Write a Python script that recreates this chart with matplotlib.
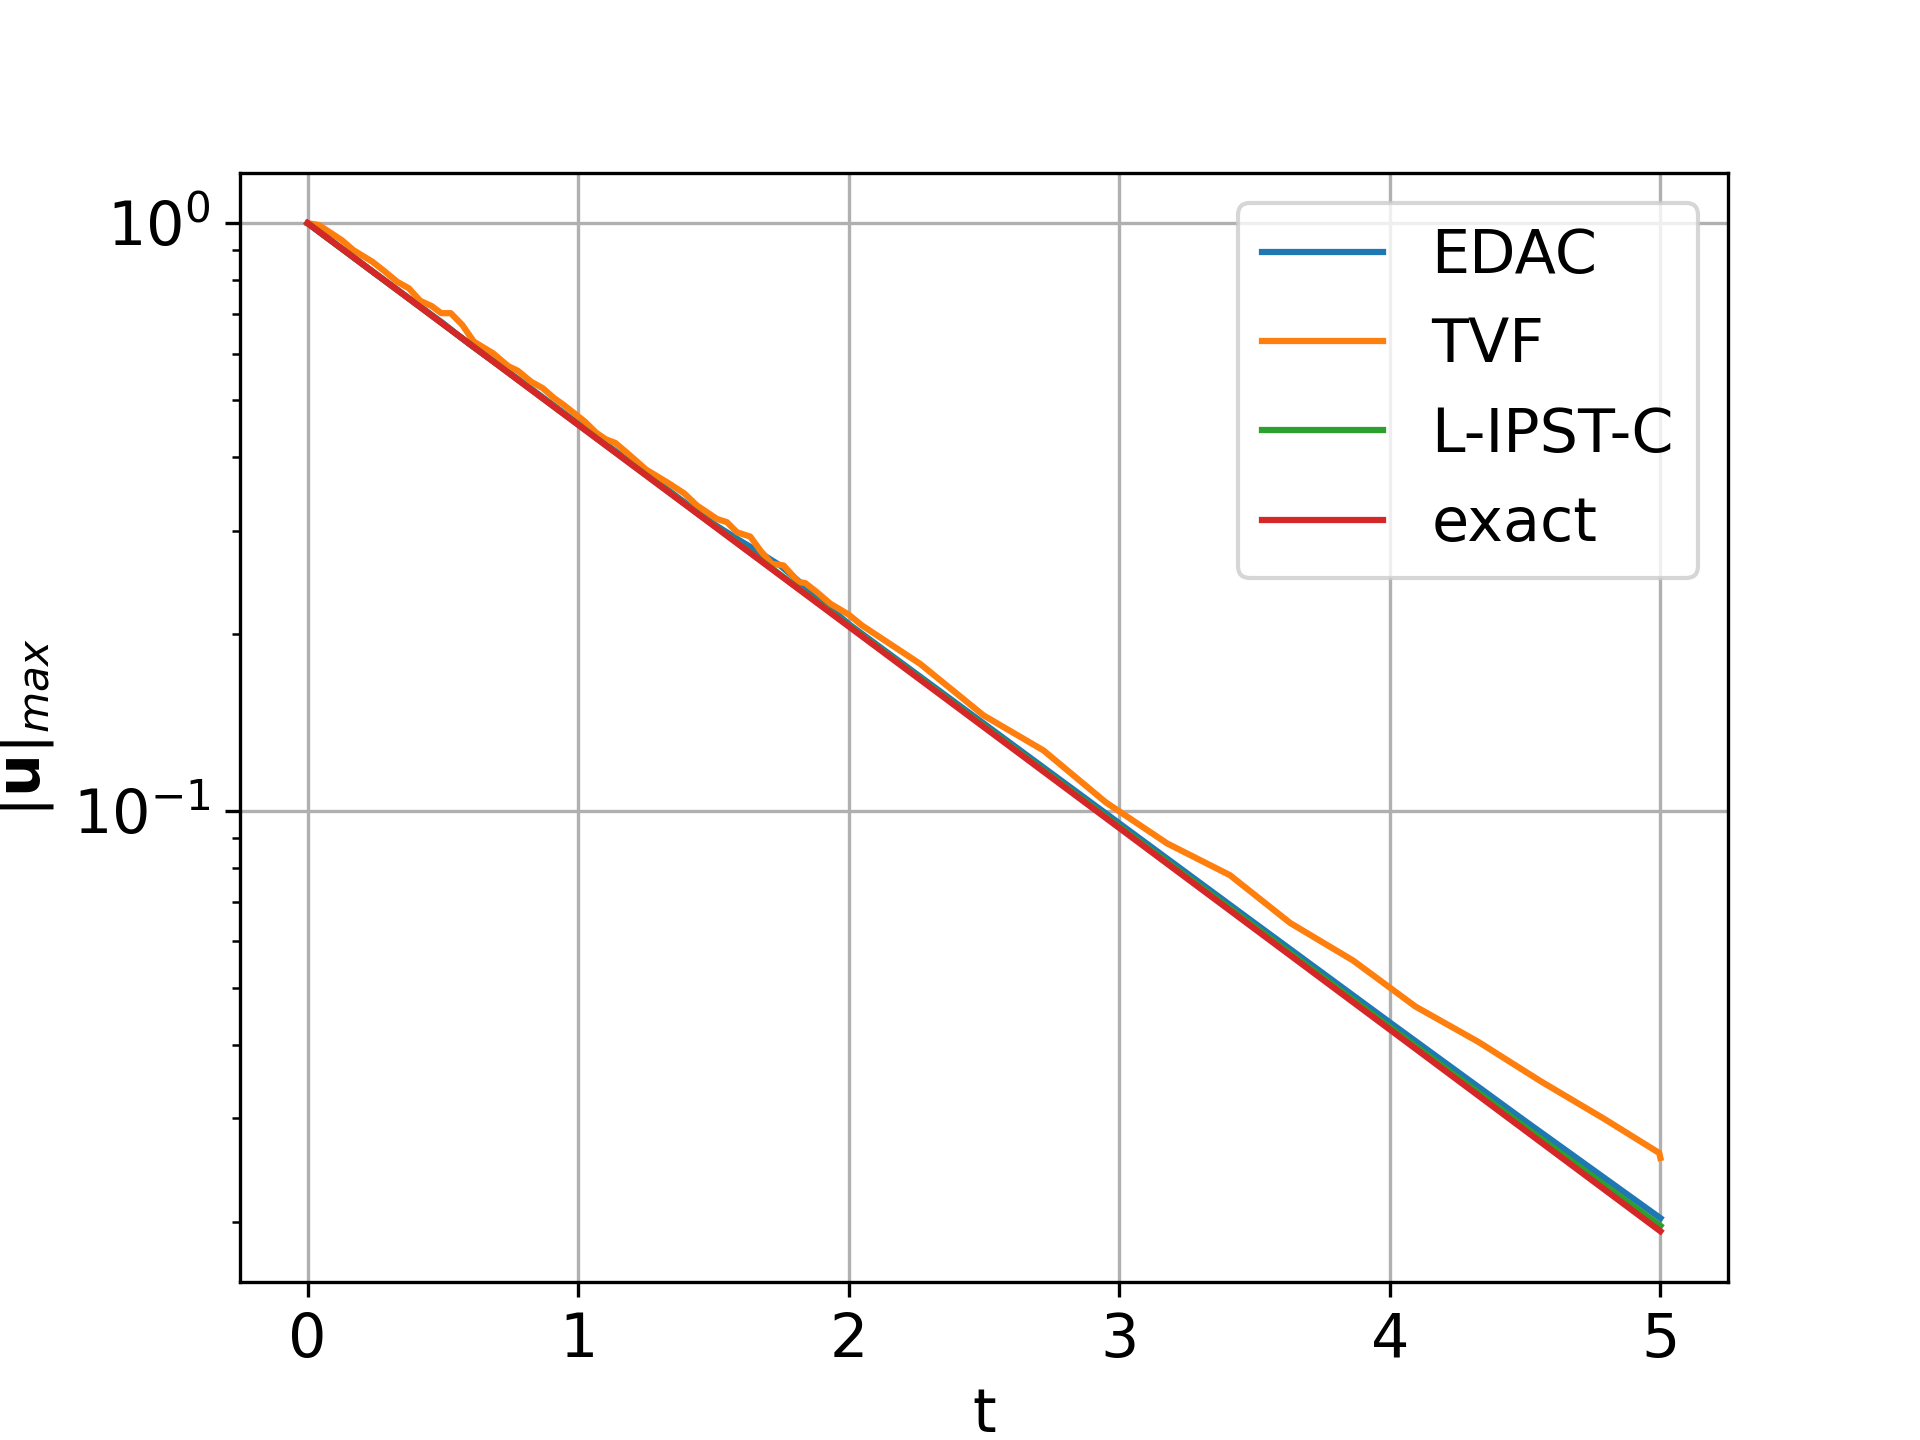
import matplotlib
matplotlib.use("Agg")
import matplotlib.pyplot as plt

plt.rcParams['font.size'] = 14.5

# exact solution, sampled
t_exact = [0.0, 0.5, 1.0, 1.5, 2.0, 2.5, 3.0, 3.5, 4.0, 4.5, 5.0]
u_exact = [1.0, 0.6738, 0.4540, 0.3059, 0.2061, 0.1389, 0.0936, 0.06307, 0.04250, 0.02863, 0.01929]

# EDAC
t_edac = [0.0, 0.25, 0.5, 0.55, 0.6, 0.75, 1.0, 1.25, 1.5, 1.6, 1.65, 1.75, 2.0, 2.5, 3.0, 3.5, 4.0, 4.5, 5.0]
u_edac = [1.0, 0.821, 0.676, 0.648, 0.622, 0.555, 0.456, 0.375, 0.308, 0.288, 0.279, 0.261, 0.2080, 0.1408, 0.0953,
          0.0645, 0.0437, 0.0297, 0.0203]

# L-IPST-C
t_lipst = [0.0, 0.5, 1.0, 1.5, 2.0, 2.5, 3.0, 3.5, 4.0, 4.5, 5.0]
u_lipst = [1.0, 0.674, 0.4545, 0.3065, 0.2068, 0.1395, 0.0941, 0.0636, 0.0429, 0.0290, 0.0197]

# TVF
t_tvf = [0.0, 0.041, 0.126, 0.169, 0.239, 0.282, 0.331, 0.374, 0.416, 0.458, 0.494, 0.529, 0.572, 0.614,
         0.685, 0.741, 0.777, 0.826, 0.869, 0.911, 0.946, 1.024, 1.067, 1.102, 1.137, 1.180, 1.251, 1.335,
         1.392, 1.439, 1.513, 1.550, 1.587, 1.636, 1.673, 1.716, 1.759, 1.815, 1.839, 1.882, 1.932, 1.999,
         2.049, 2.264, 2.498, 2.720, 2.950, 3.177, 3.409, 3.632, 3.864, 4.095, 4.327, 4.558, 4.790, 4.996, 5.0]
u_tvf = [1.0, 0.993, 0.936, 0.900, 0.860, 0.830, 0.795, 0.775, 0.738, 0.723, 0.703, 0.703, 0.671, 0.629,
         0.601, 0.5715, 0.561, 0.5375, 0.524, 0.504, 0.491, 0.460, 0.440, 0.429, 0.423, 0.407, 0.381, 0.361,
         0.347, 0.331, 0.314, 0.310, 0.298, 0.293, 0.2776, 0.2634, 0.2617, 0.2452, 0.2443, 0.2358, 0.2253, 0.2160,
         0.2069, 0.1780, 0.1455, 0.1268, 0.1035, 0.0881, 0.0778, 0.0645, 0.0557, 0.0465, 0.0405, 0.0347, 0.0300, 0.0262, 0.0257]

fig = plt.figure(figsize=(6.4, 4.8), dpi=300)
plt.semilogy(t_edac, u_edac, label='EDAC')
plt.semilogy(t_tvf, u_tvf, label='TVF')
plt.semilogy(t_lipst, u_lipst, label='L-IPST-C')
plt.semilogy(t_exact, u_exact, label='exact')
plt.xlabel('t')
plt.ylabel(r'$|\mathbf{u}|_{max}$')
plt.grid(True)
plt.legend(loc='upper right')
plt.savefig('out.png', dpi=300)
